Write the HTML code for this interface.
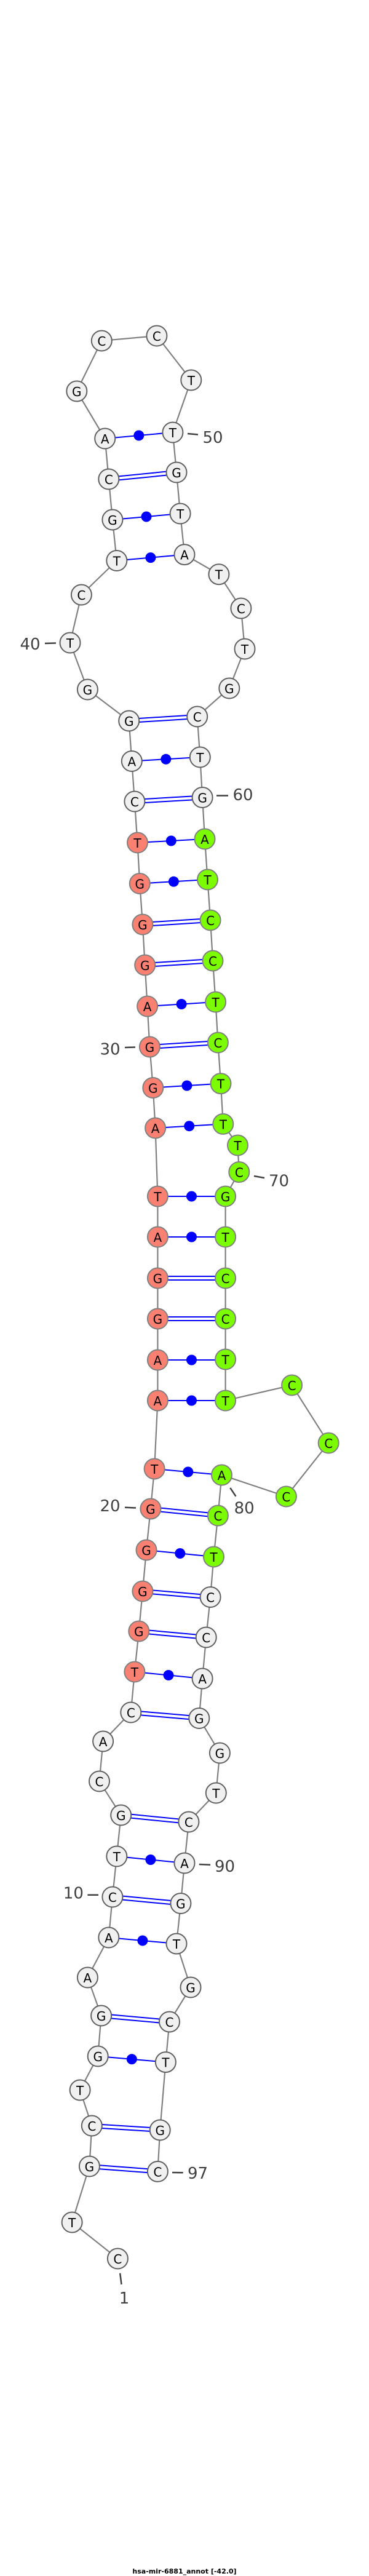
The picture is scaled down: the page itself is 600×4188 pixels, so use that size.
<!DOCTYPE html>
<html><head><meta charset="utf-8"><style>
html,body{margin:0;padding:0;background:#fff;}
svg{display:block;}
.n{stroke:#606060;stroke-width:2;}
.w{fill:#f0f0f0;}
.r{fill:#fa8072;stroke:#808080;}
.g{fill:#7cfc00;stroke:#808080;}
.t{font-family:"DejaVu Sans","Liberation Sans",sans-serif;font-size:20px;fill:#000;text-anchor:middle;dominant-baseline:central;}
.lb{font-family:"DejaVu Sans","Liberation Sans",sans-serif;font-size:26px;fill:#404040;text-anchor:middle;dominant-baseline:central;}
.tk{stroke:#404040;stroke-width:2.5;}
.p{stroke:#0000ff;stroke-width:2;}
</style></head><body>
<svg width="600" height="4188" viewBox="0 0 600 4188" xmlns="http://www.w3.org/2000/svg">
<polyline fill="none" stroke="#808080" stroke-width="2.2" points="191.4,3672 117.1,3613 145.4,3522 149.3,3456 130.1,3398 159.2,3343 164.6,3277 142.4,3215 176.8,3150 182.9,3084 189.8,3018 196.7,2951 161.5,2896 167.6,2831 212.8,2784 218.9,2718 225.8,2652 231.9,2587 238,2520 244.9,2453 251.1,2388 256.4,2277 256.4,2211 256.4,2144 256.4,2078 256.4,2011 256.4,1945 252.6,1834 248.8,1768.5 243.4,1702 239.6,1636 235.7,1569 231.9,1503 227.3,1436.5 223.5,1370 218.9,1303 214.3,1237.5 209.7,1172 142.4,1121 114,1045 132.4,967 189.8,911.5 182.9,845 176.8,779 170.7,713 124.8,636 165.3,554 254.9,546 310.8,618 280.9,703 287,768 293.1,835 300,901.6 355.9,933.7 391.9,989 398,1055 372.8,1119 320.7,1165 325.3,1231 329.1,1296.5 333,1364 337.5,1430 342.1,1496 346,1562 350.6,1629 354.4,1695 359,1761.6 362.8,1827.4 386.5,1862 388.8,1905.5 366.6,1945 366.6,2011 366.6,2078 366.6,2144 366.6,2210 366.6,2277 474.6,2252 534.2,2346 465.4,2433 360.5,2398 354.4,2464 347.5,2531 342.1,2596.5 335.2,2662 329.1,2729 323.8,2793.5 357.4,2850 351.3,2915 306.9,2962 300,3029 293.9,3094.5 287,3160 310,3231 275.5,3287 269.4,3352.6 260.2,3463 256.4,3530.4"/>
<g class="p">
<!-- double pairs -->
<line x1="145.4" y1="3519" x2="256.4" y2="3527.4"/><line x1="145.4" y1="3525" x2="256.4" y2="3533.4"/>
<line x1="149.3" y1="3453" x2="260.2" y2="3460"/><line x1="149.3" y1="3459" x2="260.2" y2="3466"/>
<line x1="164.6" y1="3274" x2="275.5" y2="3284"/><line x1="164.6" y1="3280" x2="275.5" y2="3290"/>
<line x1="182.9" y1="3081" x2="293.9" y2="3091.5"/><line x1="182.9" y1="3087" x2="293.9" y2="3097.5"/>
<line x1="196.7" y1="2948" x2="306.9" y2="2959"/><line x1="196.7" y1="2954" x2="306.9" y2="2965"/>
<line x1="212.8" y1="2781" x2="323.8" y2="2790.5"/><line x1="212.8" y1="2787" x2="323.8" y2="2796.5"/>
<line x1="225.8" y1="2649" x2="335.2" y2="2659"/><line x1="225.8" y1="2655" x2="335.2" y2="2665"/>
<line x1="231.9" y1="2584" x2="342.1" y2="2593.5"/><line x1="231.9" y1="2590" x2="342.1" y2="2599.5"/>
<line x1="244.9" y1="2450" x2="354.4" y2="2461"/><line x1="244.9" y1="2456" x2="354.4" y2="2467"/>
<line x1="256.4" y1="2141" x2="366.6" y2="2141"/><line x1="256.4" y1="2147" x2="366.6" y2="2147"/>
<line x1="256.4" y1="2075" x2="366.6" y2="2075"/><line x1="256.4" y1="2081" x2="366.6" y2="2081"/>
<line x1="243.4" y1="1699" x2="354.4" y2="1692"/><line x1="243.4" y1="1705" x2="354.4" y2="1698"/>
<line x1="235.7" y1="1566" x2="346" y2="1559"/><line x1="235.7" y1="1572" x2="346" y2="1565"/>
<line x1="231.9" y1="1500" x2="342.1" y2="1493"/><line x1="231.9" y1="1506" x2="342.1" y2="1499"/>
<line x1="218.9" y1="1300" x2="329.1" y2="1293.5"/><line x1="218.9" y1="1306" x2="329.1" y2="1299.5"/>
<line x1="209.7" y1="1169" x2="320.7" y2="1162"/><line x1="209.7" y1="1175" x2="320.7" y2="1168"/>
<line x1="176.8" y1="776" x2="287" y2="765"/><line x1="176.8" y1="782" x2="287" y2="771"/>
<!-- single pairs -->
<line x1="159.2" y1="3343" x2="269.4" y2="3352.6"/>
<line x1="176.8" y1="3150" x2="287" y2="3160"/>
<line x1="189.8" y1="3018" x2="300" y2="3029"/>
<line x1="218.9" y1="2718" x2="329.1" y2="2729"/>
<line x1="238" y1="2520" x2="347.5" y2="2531"/>
<line x1="251.1" y1="2388" x2="360.5" y2="2398"/>
<line x1="256.4" y1="2277" x2="366.6" y2="2277"/>
<line x1="256.4" y1="2211" x2="366.6" y2="2211"/>
<line x1="256.4" y1="2011" x2="366.6" y2="2011"/>
<line x1="256.4" y1="1945" x2="366.6" y2="1945"/>
<line x1="252.6" y1="1834" x2="362.8" y2="1827.4"/>
<line x1="248.8" y1="1768.5" x2="359" y2="1761.6"/>
<line x1="239.6" y1="1636" x2="350.6" y2="1629"/>
<line x1="227.3" y1="1436.5" x2="337.5" y2="1430"/>
<line x1="223.5" y1="1370" x2="333" y2="1364"/>
<line x1="214.3" y1="1237.5" x2="325.3" y2="1231"/>
<line x1="189.8" y1="911.5" x2="300" y2="901.6"/>
<line x1="182.9" y1="845" x2="293.1" y2="835"/>
<line x1="170.7" y1="713" x2="280.9" y2="703"/>
</g>
<g fill="#0000ff">
<circle cx="214.3" cy="3347.8" r="8.5"/><circle cx="231.9" cy="3155" r="8.5"/><circle cx="244.9" cy="3023.5" r="8.5"/>
<circle cx="274" cy="2723.5" r="8.5"/><circle cx="292.8" cy="2525.5" r="8.5"/><circle cx="305.8" cy="2393" r="8.5"/>
<circle cx="311.5" cy="2277" r="8.5"/><circle cx="311.5" cy="2211" r="8.5"/><circle cx="311.5" cy="2011" r="8.5"/>
<circle cx="311.5" cy="1945" r="8.5"/><circle cx="307.7" cy="1830.7" r="8.5"/><circle cx="303.9" cy="1765" r="8.5"/>
<circle cx="295.1" cy="1632.5" r="8.5"/><circle cx="282.4" cy="1433.3" r="8.5"/><circle cx="278.3" cy="1367" r="8.5"/>
<circle cx="269.8" cy="1234.3" r="8.5"/><circle cx="244.9" cy="906.6" r="8.5"/><circle cx="238" cy="840" r="8.5"/>
<circle cx="225.8" cy="708" r="8.5"/>
</g>
<!-- ticks and labels -->
<g class="tk">
<line x1="195.2" y1="3695.7" x2="197.5" y2="3714"/>
<line x1="142.4" y1="3080.7" x2="160" y2="3080.7"/>
<line x1="203" y1="2450.7" x2="221" y2="2451.5"/>
<line x1="203" y1="1703" x2="220" y2="1702.5"/>
<line x1="73" y1="1046" x2="91" y2="1045.5"/>
<line x1="305" y1="705" x2="322" y2="706.5"/>
<line x1="352" y1="1293.5" x2="371" y2="1293.5"/>
<line x1="413" y1="1912" x2="430" y2="1915"/>
<line x1="374.3" y1="2418.9" x2="383.5" y2="2432.7"/>
<line x1="323.8" y1="3031" x2="342.1" y2="3031.8"/>
<line x1="280" y1="3532" x2="297.7" y2="3532.3"/>
</g>
<g class="lb">
<text x="202" y="3737">1</text>
<text x="119.4" y="3078.4">10</text>
<text x="179" y="2448.8">20</text>
<text x="179" y="1706.5">30</text>
<text x="49" y="1048">40</text>
<text x="346" y="712">50</text>
<text x="395" y="1293">60</text>
<text x="453.5" y="1920.4">70</text>
<text x="397.2" y="2452.6">80</text>
<text x="365.5" y="3034.8">90</text>
<text x="321.5" y="3534.2">97</text>
</g>
<!-- nodes -->
<g class="n">
<circle class="w" cx="191.4" cy="3672" r="16.5"/><circle class="w" cx="117.1" cy="3613" r="16.5"/><circle class="w" cx="145.4" cy="3522" r="16.5"/><circle class="w" cx="149.3" cy="3456" r="16.5"/><circle class="w" cx="130.1" cy="3398" r="16.5"/><circle class="w" cx="159.2" cy="3343" r="16.5"/><circle class="w" cx="164.6" cy="3277" r="16.5"/><circle class="w" cx="142.4" cy="3215" r="16.5"/><circle class="w" cx="176.8" cy="3150" r="16.5"/><circle class="w" cx="182.9" cy="3084" r="16.5"/>
<circle class="w" cx="189.8" cy="3018" r="16.5"/><circle class="w" cx="196.7" cy="2951" r="16.5"/><circle class="w" cx="161.5" cy="2896" r="16.5"/><circle class="w" cx="167.6" cy="2831" r="16.5"/><circle class="w" cx="212.8" cy="2784" r="16.5"/>
<circle class="r" cx="218.9" cy="2718" r="16.5"/><circle class="r" cx="225.8" cy="2652" r="16.5"/><circle class="r" cx="231.9" cy="2587" r="16.5"/><circle class="r" cx="238" cy="2520" r="16.5"/><circle class="r" cx="244.9" cy="2453" r="16.5"/><circle class="r" cx="251.1" cy="2388" r="16.5"/><circle class="r" cx="256.4" cy="2277" r="16.5"/><circle class="r" cx="256.4" cy="2211" r="16.5"/><circle class="r" cx="256.4" cy="2144" r="16.5"/><circle class="r" cx="256.4" cy="2078" r="16.5"/><circle class="r" cx="256.4" cy="2011" r="16.5"/><circle class="r" cx="256.4" cy="1945" r="16.5"/><circle class="r" cx="252.6" cy="1834" r="16.5"/><circle class="r" cx="248.8" cy="1768.5" r="16.5"/><circle class="r" cx="243.4" cy="1702" r="16.5"/><circle class="r" cx="239.6" cy="1636" r="16.5"/><circle class="r" cx="235.7" cy="1569" r="16.5"/><circle class="r" cx="231.9" cy="1503" r="16.5"/><circle class="r" cx="227.3" cy="1436.5" r="16.5"/><circle class="r" cx="223.5" cy="1370" r="16.5"/>
<circle class="w" cx="218.9" cy="1303" r="16.5"/><circle class="w" cx="214.3" cy="1237.5" r="16.5"/><circle class="w" cx="209.7" cy="1172" r="16.5"/><circle class="w" cx="142.4" cy="1121" r="16.5"/><circle class="w" cx="114" cy="1045" r="16.5"/><circle class="w" cx="132.4" cy="967" r="16.5"/><circle class="w" cx="189.8" cy="911.5" r="16.5"/><circle class="w" cx="182.9" cy="845" r="16.5"/><circle class="w" cx="176.8" cy="779" r="16.5"/><circle class="w" cx="170.7" cy="713" r="16.5"/><circle class="w" cx="124.8" cy="636" r="16.5"/><circle class="w" cx="165.3" cy="554" r="16.5"/><circle class="w" cx="254.9" cy="546" r="16.5"/><circle class="w" cx="310.8" cy="618" r="16.5"/><circle class="w" cx="280.9" cy="703" r="16.5"/><circle class="w" cx="287" cy="768" r="16.5"/><circle class="w" cx="293.1" cy="835" r="16.5"/><circle class="w" cx="300" cy="901.6" r="16.5"/><circle class="w" cx="355.9" cy="933.7" r="16.5"/><circle class="w" cx="391.9" cy="989" r="16.5"/><circle class="w" cx="398" cy="1055" r="16.5"/><circle class="w" cx="372.8" cy="1119" r="16.5"/><circle class="w" cx="320.7" cy="1165" r="16.5"/><circle class="w" cx="325.3" cy="1231" r="16.5"/><circle class="w" cx="329.1" cy="1296.5" r="16.5"/>
<circle class="g" cx="333" cy="1364" r="16.5"/><circle class="g" cx="337.5" cy="1430" r="16.5"/><circle class="g" cx="342.1" cy="1496" r="16.5"/><circle class="g" cx="346" cy="1562" r="16.5"/><circle class="g" cx="350.6" cy="1629" r="16.5"/><circle class="g" cx="354.4" cy="1695" r="16.5"/><circle class="g" cx="359" cy="1761.6" r="16.5"/><circle class="g" cx="362.8" cy="1827.4" r="16.5"/><circle class="g" cx="386.5" cy="1862" r="16.5"/><circle class="g" cx="388.8" cy="1905.5" r="16.5"/><circle class="g" cx="366.6" cy="1945" r="16.5"/><circle class="g" cx="366.6" cy="2011" r="16.5"/><circle class="g" cx="366.6" cy="2078" r="16.5"/><circle class="g" cx="366.6" cy="2144" r="16.5"/><circle class="g" cx="366.6" cy="2210" r="16.5"/><circle class="g" cx="366.6" cy="2277" r="16.5"/><circle class="g" cx="474.6" cy="2252" r="16.5"/><circle class="g" cx="534.2" cy="2346" r="16.5"/><circle class="g" cx="465.4" cy="2433" r="16.5"/><circle class="g" cx="360.5" cy="2398" r="16.5"/><circle class="g" cx="354.4" cy="2464" r="16.5"/><circle class="g" cx="347.5" cy="2531" r="16.5"/>
<circle class="w" cx="342.1" cy="2596.5" r="16.5"/><circle class="w" cx="335.2" cy="2662" r="16.5"/><circle class="w" cx="329.1" cy="2729" r="16.5"/><circle class="w" cx="323.8" cy="2793.5" r="16.5"/><circle class="w" cx="357.4" cy="2850" r="16.5"/><circle class="w" cx="351.3" cy="2915" r="16.5"/><circle class="w" cx="306.9" cy="2962" r="16.5"/><circle class="w" cx="300" cy="3029" r="16.5"/><circle class="w" cx="293.9" cy="3094.5" r="16.5"/><circle class="w" cx="287" cy="3160" r="16.5"/><circle class="w" cx="310" cy="3231" r="16.5"/><circle class="w" cx="275.5" cy="3287" r="16.5"/><circle class="w" cx="269.4" cy="3352.6" r="16.5"/><circle class="w" cx="260.2" cy="3463" r="16.5"/><circle class="w" cx="256.4" cy="3530.4" r="16.5"/>
</g>
<g class="t">
<text x="191.4" y="3673">C</text><text x="117.1" y="3614">T</text><text x="145.4" y="3523">G</text><text x="149.3" y="3457">C</text><text x="130.1" y="3399">T</text><text x="159.2" y="3344">G</text><text x="164.6" y="3278">G</text><text x="142.4" y="3216">A</text><text x="176.8" y="3151">A</text><text x="182.9" y="3085">C</text>
<text x="189.8" y="3019">T</text><text x="196.7" y="2952">G</text><text x="161.5" y="2897">C</text><text x="167.6" y="2832">A</text><text x="212.8" y="2785">C</text>
<text x="218.9" y="2719">T</text><text x="225.8" y="2653">G</text><text x="231.9" y="2588">G</text><text x="238" y="2521">G</text><text x="244.9" y="2454">G</text><text x="251.1" y="2389">T</text><text x="256.4" y="2278">A</text><text x="256.4" y="2212">A</text><text x="256.4" y="2145">G</text><text x="256.4" y="2079">G</text><text x="256.4" y="2012">A</text><text x="256.4" y="1946">T</text><text x="252.6" y="1835">A</text><text x="248.8" y="1769.5">G</text><text x="243.4" y="1703">G</text><text x="239.6" y="1637">A</text><text x="235.7" y="1570">G</text><text x="231.9" y="1504">G</text><text x="227.3" y="1437.5">G</text><text x="223.5" y="1371">T</text>
<text x="218.9" y="1304">C</text><text x="214.3" y="1238.5">A</text><text x="209.7" y="1173">G</text><text x="142.4" y="1122">G</text><text x="114" y="1046">T</text><text x="132.4" y="968">C</text><text x="189.8" y="912.5">T</text><text x="182.9" y="846">G</text><text x="176.8" y="780">C</text><text x="170.7" y="714">A</text><text x="124.8" y="637">G</text><text x="165.3" y="555">C</text><text x="254.9" y="547">C</text><text x="310.8" y="619">T</text><text x="280.9" y="704">T</text><text x="287" y="769">G</text><text x="293.1" y="836">T</text><text x="300" y="902.6">A</text><text x="355.9" y="934.7">T</text><text x="391.9" y="990">C</text><text x="398" y="1056">T</text><text x="372.8" y="1120">G</text><text x="320.7" y="1166">C</text><text x="325.3" y="1232">T</text><text x="329.1" y="1297.5">G</text>
<text x="333" y="1365">A</text><text x="337.5" y="1431">T</text><text x="342.1" y="1497">C</text><text x="346" y="1563">C</text><text x="350.6" y="1630">T</text><text x="354.4" y="1696">C</text><text x="359" y="1762.6">T</text><text x="362.8" y="1828.4">T</text><text x="386.5" y="1863">T</text><text x="388.8" y="1906.5">C</text><text x="366.6" y="1946">G</text><text x="366.6" y="2012">T</text><text x="366.6" y="2079">C</text><text x="366.6" y="2145">C</text><text x="366.6" y="2211">T</text><text x="366.6" y="2278">T</text><text x="474.6" y="2253">C</text><text x="534.2" y="2347">C</text><text x="465.4" y="2434">C</text><text x="360.5" y="2399">A</text><text x="354.4" y="2465">C</text><text x="347.5" y="2532">T</text>
<text x="342.1" y="2597.5">C</text><text x="335.2" y="2663">C</text><text x="329.1" y="2730">A</text><text x="323.8" y="2794.5">G</text><text x="357.4" y="2851">G</text><text x="351.3" y="2916">T</text><text x="306.9" y="2963">C</text><text x="300" y="3030">A</text><text x="293.9" y="3095.5">G</text><text x="287" y="3161">T</text><text x="310" y="3232">G</text><text x="275.5" y="3288">C</text><text x="269.4" y="3353.6">T</text><text x="260.2" y="3464">G</text><text x="256.4" y="3531.4">C</text>
</g>
<text x="300" y="4184" font-family="DejaVu Sans, Liberation Sans, sans-serif" font-size="11" font-weight="bold" text-anchor="middle" fill="#000">hsa-mir-6881_annot [-42.0]</text>
</svg>
</body></html>
